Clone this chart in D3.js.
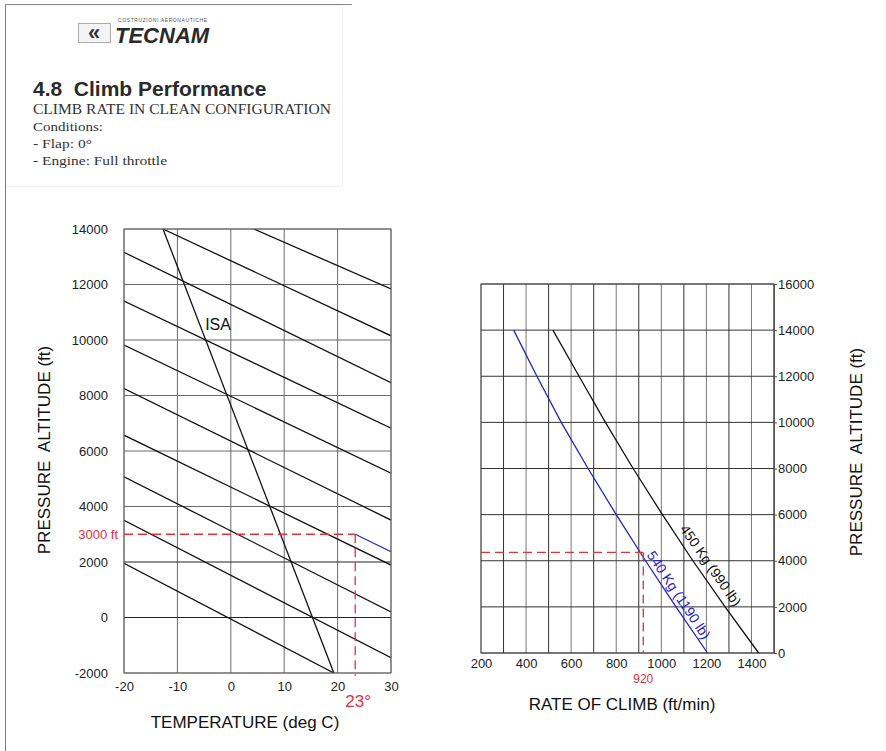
<!DOCTYPE html>
<html>
<head>
<meta charset="utf-8">
<script src="https://cdn.jsdelivr.net/npm/d3@7"></script>
<style>
  body { margin: 0; background: #fff; }
  svg { display: block; font-family: "Liberation Sans", Arial, sans-serif; }
</style>
</head>
<body>
<svg id="chart" width="886" height="751"></svg>
<script>
// ---- left chart: pressure altitude vs temperature ----
const tempTicks = [-20, -10, 0, 10, 20, 30];
const leftAltTicks = [-2000, 0, 2000, 4000, 6000, 8000, 10000, 12000, 14000];
const isaLine = [[-12.7, 14000], [19.3, -2000]];
const densityLines = [
  [[-20, 1950], [19.3, -2000]],
  [[-20, 3500], [30, -1450]],
  [[-20, 5070], [30, 200]],
  [[-20, 6570], [30, 1890]],
  [[-20, 8250], [30, 3510]],
  [[-20, 9820], [30, 5200]],
  [[-20, 11400], [30, 6820]],
  [[-20, 13160], [30, 8460]],
  [[-12.7, 14000], [30, 10150]],
  [[4.3, 14000], [30, 11840]]
];
const refTemp = 23.3;
const refAlt = 3000;
const refTempLabel = '23°';
const refAltLabel = '3000 ft';
const refSegment = [[23.3, 3000], [30, 2370]];

// ---- right chart: pressure altitude vs rate of climb ----
const rocTicks = [200, 400, 600, 800, 1000, 1200, 1400];
const rocGrid = [200, 300, 400, 500, 600, 700, 800, 900, 1000, 1100, 1200, 1300, 1400, 1500];
const rightAltTicks = [0, 2000, 4000, 6000, 8000, 10000, 12000, 14000, 16000];
const climbAlts = [14000, 12000, 10000, 8000, 6000, 4000, 2000, 0];
const roc540 = [345, 448, 556, 675, 800, 930, 1065, 1205];
const roc450 = [519, 635, 752, 875, 1005, 1140, 1283, 1432];
const rocRef = 920;
const rocRefAlt = 4360;

const plain = d => String(d);   // hyphen minus like the original sheet
const sans = '"Liberation Sans", Arial, sans-serif';

const svg = d3.select('#chart');
svg.append('rect').attr('width', 886).attr('height', 751).attr('fill', '#fff');

// page frame of the scanned sheet
svg.append('rect').attr('x', 5.5).attr('y', 5.5).attr('width', 337).attr('height', 181)
  .attr('fill', 'none').attr('stroke', '#f3f3f3');
svg.append('line').attr('x1', 5.5).attr('x2', 352).attr('y1', 4.5).attr('y2', 4.5).attr('stroke', '#888');
svg.append('line').attr('x1', 5.5).attr('x2', 5.5).attr('y1', 4.5).attr('y2', 751).attr('stroke', '#777');

// header
const head = svg.append('g');
head.append('rect').attr('x', 78.5).attr('y', 23.5).attr('width', 32).attr('height', 19)
  .attr('fill', '#f4f4f4').attr('stroke', '#aaa');
head.append('text').attr('x', 94).attr('y', 40).attr('text-anchor', 'middle')
  .attr('font-size', 22).attr('font-weight', 'bold').attr('fill', '#333').text('«');
head.append('text').attr('x', 118).attr('y', 22).attr('font-size', 5).attr('fill', '#555')
  .attr('letter-spacing', 0.6).text('COSTRUZIONI  AERONAUTICHE');
head.append('text').attr('x', 115).attr('y', 43).attr('font-size', 22).attr('font-weight', 'bold')
  .attr('font-style', 'italic').attr('fill', '#2a2a2a').text('TECNAM');
head.append('text').attr('x', 33).attr('y', 96).attr('font-size', 21).attr('font-weight', 'bold')
  .attr('fill', '#2a2a2a').style('white-space', 'pre').text('4.8  Climb Performance');

const serif = '"Liberation Serif", "Times New Roman", serif';
[
  ['CLIMB RATE IN CLEAN CONFIGURATION', 114, 298, 14],
  ['Conditions:', 131, 70, 13],
  ['- Flap: 0°', 148, 59, 13],
  ['- Engine: Full throttle', 165, 134, 13]
].forEach(([t, y, w, fs]) => {
  head.append('text').attr('x', 33).attr('y', y).attr('font-family', serif)
    .attr('font-size', fs).attr('fill', '#333')
    .attr('textLength', w).attr('lengthAdjust', 'spacingAndGlyphs').text(t);
});

// ===== left chart =====
const xT = d3.scaleLinear().domain([-20, 30]).range([124, 391]);
const yA = d3.scaleLinear().domain([-2000, 14000]).range([673, 229]);
const left = svg.append('g');

left.append('defs').append('clipPath').attr('id', 'clipL').append('rect')
  .attr('x', xT(-20)).attr('y', yA(14000))
  .attr('width', xT(30) - xT(-20)).attr('height', yA(-2000) - yA(14000));

left.append('g').selectAll('line').data(tempTicks).join('line')
  .attr('x1', d => xT(d)).attr('x2', d => xT(d))
  .attr('y1', yA(14000)).attr('y2', yA(-2000))
  .attr('stroke', '#6a6a6a').attr('stroke-width', 1);
left.append('g').selectAll('line').data(leftAltTicks).join('line')
  .attr('x1', xT(-20)).attr('x2', xT(30))
  .attr('y1', d => yA(d)).attr('y2', d => yA(d))
  .attr('stroke', d => (d === 0 || d === 2000) ? '#222' : '#6a6a6a').attr('stroke-width', 1);

const lineL = d3.line().x(d => xT(d[0])).y(d => yA(d[1]));
const plotL = left.append('g').attr('clip-path', 'url(#clipL)');
plotL.selectAll('path.dens').data(densityLines).join('path').attr('class', 'dens')
  .attr('d', lineL).attr('fill', 'none').attr('stroke', '#111').attr('stroke-width', 1.3);
plotL.append('path').attr('d', lineL(isaLine)).attr('fill', 'none')
  .attr('stroke', '#111').attr('stroke-width', 1.3);
plotL.append('path').attr('d', lineL(refSegment)).attr('fill', 'none')
  .attr('stroke', '#2a2ad0').attr('stroke-width', 1.3);

left.append('text').attr('x', xT(-4.8)).attr('y', yA(10350)).attr('font-size', 16)
  .attr('fill', '#111').text('ISA');

const yAxisL = left.append('g').attr('transform', `translate(${xT(-20)},0)`)
  .call(d3.axisLeft(yA).tickValues(leftAltTicks).tickSize(0).tickPadding(16).tickFormat(plain));
yAxisL.select('.domain').remove();
yAxisL.selectAll('text').attr('font-size', 13).attr('fill', '#222').attr('font-family', sans);

const xAxisL = left.append('g').attr('transform', `translate(0,${yA(-2000)})`)
  .call(d3.axisBottom(xT).tickValues(tempTicks).tickSize(0).tickPadding(9).tickFormat(plain));
xAxisL.select('.domain').remove();
xAxisL.selectAll('text').attr('font-size', 13).attr('fill', '#222').attr('font-family', sans);

left.append('rect').attr('x', xT(-20)).attr('y', yA(14000))
  .attr('width', xT(30) - xT(-20)).attr('height', yA(-2000) - yA(14000))
  .attr('fill', 'none').attr('stroke', '#6a6a6a');

// reference dashes
const red = '#e0323f';
left.append('line').attr('x1', xT(-20)).attr('x2', xT(refTemp))
  .attr('y1', yA(refAlt)).attr('y2', yA(refAlt))
  .attr('stroke', red).attr('stroke-width', 1.3).attr('stroke-dasharray', '9,5');
left.append('line').attr('x1', xT(refTemp)).attr('x2', xT(refTemp))
  .attr('y1', yA(refAlt)).attr('y2', yA(-2000) + 3)
  .attr('stroke', red).attr('stroke-width', 1.3).attr('stroke-dasharray', '9,5');
left.append('text').attr('x', xT(-20) - 6).attr('y', yA(refAlt) + 5).attr('text-anchor', 'end')
  .attr('font-size', 13).attr('fill', red).text(refAltLabel);
left.append('text').attr('x', xT(refTemp) + 3).attr('y', 707).attr('text-anchor', 'middle')
  .attr('font-size', 17).attr('fill', red).text(refTempLabel);

left.append('text').attr('x', 245).attr('y', 728).attr('text-anchor', 'middle')
  .attr('font-size', 17).attr('fill', '#111').text('TEMPERATURE (deg C)');
left.append('text').attr('transform', 'translate(50,450) rotate(-90)').attr('text-anchor', 'middle')
  .attr('font-size', 17).attr('fill', '#111').style('white-space', 'pre')
  .text('PRESSURE  ALTITUDE (ft)');

// ===== right chart =====
const xR = d3.scaleLinear().domain([200, 1500]).range([481, 774]);
const yR = d3.scaleLinear().domain([0, 16000]).range([653, 284]);
const right = svg.append('g');

right.append('g').selectAll('line').data(rocGrid).join('line')
  .attr('x1', d => xR(d)).attr('x2', d => xR(d))
  .attr('y1', yR(16000)).attr('y2', yR(0))
  .attr('stroke', (d, i) => i % 2 ? '#333' : '#777').attr('stroke-width', 1);
right.append('g').selectAll('line').data(rightAltTicks).join('line')
  .attr('x1', xR(200)).attr('x2', xR(1500))
  .attr('y1', d => yR(d)).attr('y2', d => yR(d))
  .attr('stroke', '#333').attr('stroke-width', 1);
right.append('rect').attr('x', xR(200)).attr('y', yR(16000))
  .attr('width', xR(1500) - xR(200)).attr('height', yR(0) - yR(16000))
  .attr('fill', 'none').attr('stroke', '#555');

const lineR = d3.line().x(d => xR(d[0])).y(d => yR(d[1]));
const weights = [
  { roc: roc450, color: '#111', label: '450 Kg (990 lb)', at: 3500, dy: -7 },
  { roc: roc540, color: '#2323c8', label: '540 Kg (1190 lb)', at: 2300, dy: -4 }
];
weights.forEach(w => {
  const pts = climbAlts.map((a, i) => [w.roc[i], a]);
  right.append('path').attr('d', lineR(pts)).attr('fill', 'none')
    .attr('stroke', w.color).attr('stroke-width', 1.3);
  const rocAt = d3.scaleLinear().domain(climbAlts).range(w.roc);
  const p0 = [xR(rocAt(w.at + 600)), yR(w.at + 600)];
  const p1 = [xR(rocAt(w.at - 600)), yR(w.at - 600)];
  const ang = Math.atan2(p1[1] - p0[1], p1[0] - p0[0]) * 180 / Math.PI;
  right.append('text')
    .attr('transform', `translate(${xR(rocAt(w.at))},${yR(w.at)}) rotate(${ang})`)
    .attr('dy', w.dy).attr('text-anchor', 'middle').attr('font-size', 14)
    .attr('fill', w.color).text(w.label);
});

right.append('line').attr('x1', xR(200)).attr('x2', xR(rocRef))
  .attr('y1', yR(rocRefAlt)).attr('y2', yR(rocRefAlt))
  .attr('stroke', red).attr('stroke-width', 1.3).attr('stroke-dasharray', '9,5');
right.append('line').attr('x1', xR(rocRef)).attr('x2', xR(rocRef))
  .attr('y1', yR(rocRefAlt)).attr('y2', yR(0))
  .attr('stroke', red).attr('stroke-width', 1.3).attr('stroke-dasharray', '9,5');

const yAxisR = right.append('g').attr('transform', `translate(${xR(1500)},0)`)
  .call(d3.axisRight(yR).tickValues(rightAltTicks).tickSize(3).tickPadding(1).tickFormat(plain));
yAxisR.select('.domain').attr('stroke', '#555');
yAxisR.selectAll('.tick line').attr('stroke', '#555');
yAxisR.selectAll('text').attr('font-size', 13).attr('fill', '#222').attr('font-family', sans);

const xAxisR = right.append('g').attr('transform', `translate(0,${yR(0)})`)
  .call(d3.axisBottom(xR).tickValues(rocTicks).tickSize(0).tickPadding(6).tickFormat(plain));
xAxisR.select('.domain').remove();
xAxisR.selectAll('text').attr('font-size', 13).attr('fill', '#222').attr('font-family', sans);

right.append('text').attr('x', xR(rocRef)).attr('y', 683).attr('text-anchor', 'middle')
  .attr('font-size', 12).attr('fill', red).text(rocRef);
right.append('text').attr('x', 622).attr('y', 710).attr('text-anchor', 'middle')
  .attr('font-size', 17).attr('fill', '#111').text('RATE OF CLIMB (ft/min)');
right.append('text').attr('transform', 'translate(862,452) rotate(-90)').attr('text-anchor', 'middle')
  .attr('font-size', 17).attr('fill', '#111').style('white-space', 'pre')
  .text('PRESSURE  ALTITUDE (ft)');
</script>
</body>
</html>
